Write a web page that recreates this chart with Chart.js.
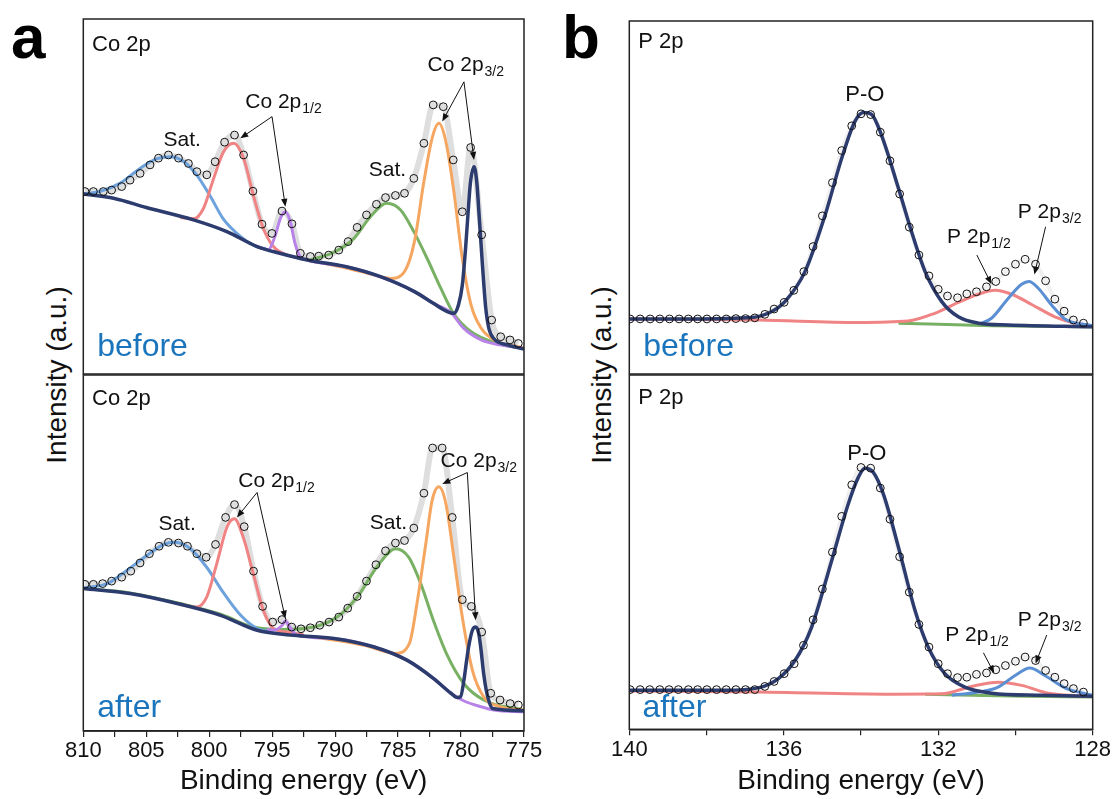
<!DOCTYPE html>
<html>
<head>
<meta charset="utf-8">
<script src="https://cdn.jsdelivr.net/npm/chart.js@4.4.1/dist/chart.umd.min.js"></script>
<style>
  body { margin: 0; background: #fff; }
  #fig { position: relative; width: 1116px; height: 799px; overflow: hidden; font-family: "Liberation Sans", Arial, sans-serif; }
  canvas { position: absolute; }
  .ylab { position: absolute; transform: translate(-50%, -50%) rotate(-90deg); white-space: nowrap; font-size: 28px; color: #111; }
  .letter { position: absolute; font-size: 62px; font-weight: bold; line-height: 1; color: #000; }
</style>
</head>
<body>
<div id="fig">
  <div class="letter" style="left:11px;top:6px">a</div>
  <div class="letter" style="left:562px;top:6px">b</div>
  <div class="ylab" style="left:57px;top:375px">Intensity (a.u.)</div>
  <div class="ylab" style="left:602px;top:375px">Intensity (a.u.)</div>
  <canvas id="aTop" width="490" height="380" style="left:60px;top:0"></canvas>
  <canvas id="aBot" width="490" height="429" style="left:60px;top:370px"></canvas>
  <canvas id="bTop" width="516" height="380" style="left:600px;top:0"></canvas>
  <canvas id="bBot" width="516" height="429" style="left:600px;top:370px"></canvas>
</div>
<script>
// ---- Co 2p, before: [binding energy (eV), intensity (a.u., 0-100 box)] ----
const coBeforeData = [[809.87,51.4],[809.2,51.4],[808.41,51.4],[807.75,51.8],[806.95,52.8],[806.29,54.6],[805.49,56.5],[804.7,58.9],[804.03,60.8],[803.24,61.7],[802.44,60.8],[801.65,59.3],[800.98,57.0],[800.19,56.1],[799.53,59.8],[798.78,65.3],[797.99,67.3],[797.27,61.7],[796.53,51.5],[795.81,42.2],[795.02,39.6],[794.22,45.9],[793.43,42.3],[792.76,34.0],[791.97,33.1],[791.3,33.2],[790.51,33.5],[789.71,34.9],[788.97,37.3],[788.25,41.3],[787.51,44.8],[786.72,47.8],[786.0,49.7],[785.21,50.3],[784.49,50.9],[783.75,55.1],[782.95,65.0],[782.21,75.8],[781.41,75.3],[780.62,60.3],[779.9,45.7],[779.24,63.8],[778.36,39.2],[777.57,15.2],[776.85,10.5],[776.11,9.6],[775.45,8.6]];
const coBeforeNavy = [[810,50.7],[807.6,49.5],[805,46.9],[801.25,43.4],[798.6,40.1],[796.2,35.9],[794.4,34.0],[792.2,32.1],[789.1,30.2],[786.4,27.4],[783.7,23.2],[782.2,19.9],[781.1,17.6],[780.57,17.1],[780.2,19.5],[779.9,25.0],[779.64,35.4],[779.45,45.0],[779.25,54.0],[778.97,58.4],[778.75,54.0],[778.55,44.0],[778.3,30.7],[778.05,19.0],[777.8,13.0],[777.4,10.0],[776.3,8.2],[775,7.0]];
const coBeforePurple = [[796.2,35.9],[795.3,35.0],[794.8,38.5],[794.35,43.8],[793.96,45.7],[793.56,42.9],[793.2,37.0],[792.8,33.2],[792.2,32.1],[789.1,30.2],[786.4,27.4],[783.7,23.2],[782.2,19.9],[780.8,17.3],[779.8,12.9],[778.4,9.6],[776.9,8.2],[775,7.2]];
const coBeforeRed = [[802.3,44.1],[801.25,43.7],[800.45,46.7],[799.65,55.1],[798.86,62.6],[798.07,65.0],[797.27,60.8],[796.5,50.4],[795.7,41.0],[794.9,35.9],[793.8,33.5],[792.5,32.5]];
const coBeforeBlue = [[810,50.7],[808.7,51.4],[807.1,53.7],[805.5,57.9],[804.2,60.6],[803.1,61.2],[802,59.8],[801,56.1],[799.9,50.0],[798.9,43.8],[797.5,38.7],[796.5,36.3],[795.5,35.2]];
const coBeforeOrange = [[791.7,31.8],[789.05,29.8],[786.9,27.9],[785.6,26.9],[784.5,28.8],[783.7,37.3],[782.95,54.2],[782.3,66.4],[781.76,70.6],[781.2,65.4],[780.57,51.4],[779.9,32.6],[779.2,19.4],[778.4,12.9],[777.1,9.1],[775,7.4]];
const coBeforeGreen = [[792,32.1],[790.1,34.3],[788.5,38.2],[787.2,44.3],[785.9,48.1],[784.8,46.2],[783.75,40.1],[782.7,32.6],[781.6,24.1],[780.6,17.1],[779.2,11.9],[777.1,8.6],[775,7.2]];

// ---- Co 2p, after ----
const coAfterData = [[809.87,41.2],[809.2,41.2],[808.46,41.4],[807.75,42.1],[806.95,43.2],[806.23,44.9],[805.49,47.2],[804.75,49.8],[803.98,51.9],[803.24,53.0],[802.44,52.8],[801.73,51.9],[800.98,49.8],[800.24,48.8],[799.5,52.4],[798.7,60.0],[797.99,63.6],[797.22,57.4],[796.48,44.9],[795.76,35.0],[794.96,30.6],[794.22,31.3],[793.45,29.2],[792.71,28.7],[791.97,29.0],[791.22,29.7],[790.48,30.6],[789.71,32.0],[789.0,34.5],[788.25,37.8],[787.51,42.1],[786.76,46.7],[786.0,50.6],[785.21,52.8],[784.49,53.5],[783.75,57.0],[782.95,66.8],[782.26,79.5],[781.5,79.5],[780.7,60.0],[779.9,36.9],[779.18,35.0],[778.36,27.8],[777.64,10.6],[776.9,8.7],[776.1,7.7],[775.45,7.3]];
const coAfterNavy = [[810,40.0],[806.3,38.6],[802.3,35.6],[799.1,32.5],[796.2,28.3],[793.3,26.9],[790.1,26.0],[786.9,23.6],[784.3,19.9],[782.2,14.8],[780.8,10.6],[780.3,9.4],[780.04,9.6],[779.77,14.3],[779.55,20.0],[779.4,23.6],[779.1,28.3],[778.84,29.2],[778.6,27.5],[778.44,23.6],[778.2,16.0],[778.0,11.5],[777.75,8.0],[777.5,6.3],[775,5.7]];
const coAfterPurple = [[795.4,28.5],[794.9,28.3],[794.2,29.7],[793.96,30.9],[793.6,29.2],[793.0,26.9],[790.1,26.0],[786.9,23.6],[784.3,19.9],[782.2,14.8],[780.8,10.6],[779.8,8.5],[778.4,6.8],[777.4,5.9],[775,5.4]];
const coAfterRed = [[802.3,35.6],[801,34.8],[800.2,37.6],[799.4,47.0],[798.6,57.2],[798.0,59.6],[797.3,54.4],[796.5,44.2],[795.7,33.9],[794.9,28.8],[793.8,27.8],[792.5,27.0]];
const coAfterBlue = [[810,40.2],[808.1,41.4],[806.55,45.1],[804.96,49.3],[803.6,52.4],[802.7,53.0],[801.5,51.2],[800.2,46.0],[798.9,39.0],[797.5,32.5],[796.2,28.8],[795.2,28.0]];
const coAfterOrange = [[791.7,26.4],[787.7,24.1],[785.2,21.8],[784.1,24.6],[783.5,35.8],[782.8,52.6],[782.3,64.7],[781.76,68.6],[781.2,63.8],[780.57,48.8],[779.9,32.0],[779.1,17.1],[778.2,9.6],[776.85,6.8],[775,5.9]];
const coAfterGreen = [[810,40.0],[806.3,38.8],[802.3,35.8],[799.1,32.8],[796.5,29.2],[794.35,28.5],[791.7,29.2],[789.85,32.0],[788.25,37.6],[786.7,46.0],[785.2,51.2],[784.15,48.8],[783.2,41.4],[782.2,31.1],[781.1,21.3],[779.8,13.4],[778.2,8.7],[775,5.9]];

// ---- P 2p, before ----
const pBeforeData = [[139.98,15.6],[139.72,15.6],[139.46,15.6],[139.21,15.6],[138.96,15.6],[138.71,15.6],[138.47,15.6],[138.23,15.6],[137.99,15.6],[137.74,15.6],[137.49,15.6],[137.24,15.7],[136.99,15.7],[136.75,15.9],[136.49,16.9],[136.25,18.4],[135.99,20.3],[135.74,23.7],[135.48,29.0],[135.24,36.1],[135.0,44.8],[134.74,54.2],[134.5,63.3],[134.24,70.3],[134.0,73.7],[133.75,73.5],[133.5,68.5],[133.25,60.4],[133.0,51.0],[132.75,41.6],[132.5,33.7],[132.24,27.8],[132.0,24.0],[131.76,22.1],[131.5,21.6],[131.26,22.7],[131.01,23.3],[130.75,24.7],[130.51,26.2],[130.26,29.0],[130.0,31.1],[129.75,32.5],[129.48,31.1],[129.22,26.4],[128.98,21.2],[128.74,17.8],[128.5,15.3],[128.24,14.4]];
const pBeforeNavy = [[140,15.6],[138.39,15.6],[136.83,16.0],[136.31,17.7],[135.97,20.5],[135.45,29.0],[134.93,45.0],[134.5,61.1],[134.16,71.5],[133.94,74.1],[133.73,73.6],[133.47,67.7],[133.03,52.6],[132.69,40.3],[132.34,29.0],[131.91,20.5],[131.48,16.2],[130.96,14.4],[130.19,13.9],[128,13.4]];
const pBeforeRed = [[140,15.6],[136.66,15.3],[134.07,14.6],[132.78,15.0],[132.09,17.2],[131.48,20.3],[130.96,22.6],[130.53,23.7],[130.1,22.6],[129.58,19.7],[128.98,16.2],[128.46,14.4],[128,13.7]];
const pBeforeBlue = [[130.96,14.1],[130.62,15.8],[130.19,21.4],[129.84,25.4],[129.65,26.2],[129.41,24.3],[129.06,19.5],[128.72,15.6],[128,13.7]];
const pBeforeGreen = [[133.03,14.4],[130.62,13.7],[128,13.4]];

// ---- P 2p, after ----
const pAfterData = [[139.98,11.2],[139.72,11.2],[139.47,11.2],[139.21,11.2],[138.97,11.2],[138.73,11.2],[138.47,11.2],[138.23,11.2],[137.99,11.2],[137.74,11.2],[137.49,11.2],[137.24,11.2],[136.99,11.2],[136.75,11.2],[136.49,12.1],[136.25,13.5],[135.99,15.7],[135.73,18.5],[135.49,23.7],[135.24,30.9],[135.0,39.6],[134.74,50.0],[134.5,60.1],[134.24,69.0],[134.0,73.9],[133.75,73.7],[133.5,68.1],[133.25,59.3],[133.0,48.7],[132.75,38.7],[132.5,29.6],[132.24,23.2],[132.0,18.5],[131.76,15.7],[131.5,14.6],[131.26,14.7],[131.01,15.5],[130.75,15.9],[130.51,16.8],[130.26,18.0],[130.0,19.2],[129.75,20.4],[129.48,19.4],[129.22,16.6],[128.98,14.7],[128.74,12.9],[128.5,11.5],[128.24,10.5]];
const pAfterNavy = [[140,11.0],[137.52,11.0],[136.66,11.7],[136.14,14.3],[135.71,19.4],[135.28,28.8],[134.76,47.6],[134.33,63.6],[134.07,71.1],[133.9,73.7],[133.68,72.5],[133.42,66.4],[133.03,51.4],[132.6,33.5],[132.26,23.2],[131.83,15.7],[131.31,11.9],[130.62,10.2],[129.32,9.6],[128,9.3]];
const pAfterRed = [[140,10.8],[136.66,10.5],[133.2,9.9],[131.91,10.0],[131.14,12.1],[130.45,13.3],[129.84,12.4],[129.15,10.2],[128,9.3]];
const pAfterBlue = [[131.65,9.6],[130.96,10.5],[130.45,11.9],[130.01,15.2],[129.63,17.3],[129.24,15.2],[128.72,11.7],[128,9.6]];
const pAfterGreen = [[132.34,9.9],[129.75,9.3],[128,9.1]];

// ---- axes ----
const coRange = [775, 810];
const pRange = [128, 140];
const coTickStep = 2.5, coLabelStep = 5;
const pTickStep = 2, pLabelStep = 4;

const FONT = '"Liberation Sans", Arial, sans-serif';
Chart.defaults.font.family = FONT;
Chart.defaults.color = '#111';

const C = {
  navy: '#2d3c6e', blue: '#6ea2dc', red: '#f08484', purple: '#b883e8',
  green: '#78b064', orange: '#f5a661', raw: '#dedede', note: '#1b75bc'
};

function xy(pairs) { return pairs.map(([x, y]) => ({ x, y })); }

function line(pairs, color, width) {
  return { data: xy(pairs), borderColor: color, borderWidth: width || 3, pointRadius: 0,
           cubicInterpolationMode: 'monotone', fill: false };
}
function dots(pairs) {
  return { data: xy(pairs), showLine: false, pointRadius: 3.9, pointBorderWidth: 1,
           pointBorderColor: '#111', pointBackgroundColor: 'rgba(0,0,0,0)' };
}

// frame, labels and arrows, placed in data units
function decor(notes) {
  return {
    id: 'decor',
    afterDatasetsDraw(chart) {
      const { ctx, chartArea: a, scales: { x, y } } = chart;
      ctx.save();
      ctx.strokeStyle = '#222';
      ctx.lineWidth = 1.5;
      ctx.strokeRect(a.left, a.top, a.right - a.left, a.bottom - a.top);

      (notes.arrows || []).forEach(([e0, v0, e1, v1]) => {
        const x0 = x.getPixelForValue(e0), y0 = y.getPixelForValue(v0);
        const x1 = x.getPixelForValue(e1), y1 = y.getPixelForValue(v1);
        const ang = Math.atan2(y1 - y0, x1 - x0);
        ctx.strokeStyle = '#111'; ctx.fillStyle = '#111'; ctx.lineWidth = 1;
        ctx.beginPath(); ctx.moveTo(x0, y0);
        ctx.lineTo(x1 - 6 * Math.cos(ang), y1 - 6 * Math.sin(ang)); ctx.stroke();
        ctx.beginPath();
        ctx.moveTo(x1, y1);
        ctx.lineTo(x1 - 8 * Math.cos(ang) + 3.2 * Math.sin(ang), y1 - 8 * Math.sin(ang) - 3.2 * Math.cos(ang));
        ctx.lineTo(x1 - 8 * Math.cos(ang) - 3.2 * Math.sin(ang), y1 - 8 * Math.sin(ang) + 3.2 * Math.cos(ang));
        ctx.closePath(); ctx.fill();
      });

      ctx.textBaseline = 'middle';
      (notes.labels || []).forEach(n => {
        const size = n.size || 21;
        ctx.font = size + 'px ' + FONT;
        ctx.fillStyle = n.color || '#111';
        let px = x.getPixelForValue(n.e);
        const py = y.getPixelForValue(n.v);
        const w = ctx.measureText(n.text).width;
        if (n.align === 'center') px -= w / 2;
        ctx.textAlign = 'left';
        ctx.fillText(n.text, px, py);
        if (n.sub) {
          ctx.font = '14px ' + FONT;
          ctx.fillText(n.sub, px + w + 1, py + 7);
        }
      });
      ctx.restore();
    }
  };
}

function makePanel(id, range, sets, notes, bottom) {
  const isCo = range === coRange;
  const step = isCo ? coTickStep : pTickStep;
  const labStep = isCo ? coLabelStep : pLabelStep;
  const padL = isCo ? 23.3 : 29.3;
  const padR = isCo ? 26 : 23.3;
  const xScale = {
    type: 'linear', reverse: true, min: range[0], max: range[1],
    display: !!bottom
  };
  if (bottom) {
    Object.assign(xScale, {
      afterFit: s => { s.height = isCo ? 68 : 69.7; },
      border: { color: '#222', width: 1.5 },
      grid: { drawOnChartArea: false, drawTicks: true, tickLength: 6, color: '#222', lineWidth: 1.2 },
      ticks: { stepSize: step, autoSkip: false, maxRotation: 0, padding: 1, color: '#111',
               font: { size: 22 }, callback: v => (v % labStep === 0 ? v : '') },
      title: { display: true, text: 'Binding energy (eV)', color: '#111', font: { size: 28 },
               padding: { top: 0, bottom: 1 } }
    });
  }
  new Chart(document.getElementById(id), {
    type: 'line',
    data: { datasets: sets },
    options: {
      responsive: false, animation: false, devicePixelRatio: 1,
      layout: { padding: bottom ? { left: padL, right: padR, top: 4, bottom: 0 }
                                : { left: padL, right: padR, top: isCo ? 19 : 21, bottom: 6 } },
      plugins: { legend: { display: false }, tooltip: { enabled: false } },
      scales: { x: xScale, y: { display: false, min: 0, max: 100 } }
    },
    plugins: [decor(notes)]
  });
}

makePanel('aTop', coRange, [
  dots(coBeforeData),
  line(coBeforeNavy, C.navy, 3.5),
  line(coBeforePurple, C.purple),
  line(coBeforeRed, C.red),
  line(coBeforeBlue, C.blue),
  line(coBeforeOrange, C.orange),
  line(coBeforeGreen, C.green),
  line(coBeforeData, C.raw, 6)
], {
  labels: [
    { text: 'Co 2p', e: 809.31, v: 92.7, size: 22 },
    { text: 'Sat.', e: 802.15, v: 65.9, align: 'center' },
    { text: 'Co 2p', sub: '1/2', e: 797.14, v: 76.6 },
    { text: 'Co 2p', sub: '3/2', e: 782.66, v: 87.0 },
    { text: 'Sat.', e: 785.84, v: 57.5, align: 'center' },
    { text: 'before', e: 808.9, v: 7.6, size: 32, color: C.note }
  ],
  arrows: [
    [795.01, 72.5, 797.53, 66.4], [795.01, 72.5, 793.95, 47.1],
    [779.77, 82.3, 781.49, 71.1], [779.77, 82.3, 778.97, 60.3]
  ]
}, false);

makePanel('aBot', coRange, [
  dots(coAfterData),
  line(coAfterNavy, C.navy, 3.5),
  line(coAfterPurple, C.purple),
  line(coAfterRed, C.red),
  line(coAfterBlue, C.blue),
  line(coAfterOrange, C.orange),
  line(coAfterGreen, C.green),
  line(coAfterData, C.raw, 6)
], {
  labels: [
    { text: 'Co 2p', e: 809.31, v: 93.3, size: 22 },
    { text: 'Sat.', e: 802.55, v: 58.0, align: 'center' },
    { text: 'Co 2p', sub: '1/2', e: 797.69, v: 70.3 },
    { text: 'Sat.', e: 785.76, v: 58.5, align: 'center' },
    { text: 'Co 2p', sub: '3/2', e: 781.63, v: 75.9 },
    { text: 'after', e: 808.9, v: 6.4, size: 32, color: C.note }
  ],
  arrows: [
    [796.2, 67.0, 797.8, 60.0], [796.2, 67.0, 793.95, 31.6],
    [779.5, 72.6, 781.49, 69.4], [779.5, 72.6, 778.84, 31.1]
  ]
}, true);

makePanel('bTop', pRange, [
  dots(pBeforeData),
  line(pBeforeNavy, C.navy, 3.5),
  line(pBeforeBlue, '#5b8fd3'),
  line(pBeforeRed, C.red),
  line(pBeforeGreen, C.green),
  line(pBeforeData, '#f0f0f0', 4)
], {
  labels: [
    { text: 'P 2p', e: 139.77, v: 94.1, size: 22 },
    { text: 'P-O', e: 133.9, v: 79.0, align: 'center', size: 22 },
    { text: 'P 2p', sub: '1/2', e: 131.77, v: 38.8 },
    { text: 'P 2p', sub: '3/2', e: 129.94, v: 45.9 },
    { text: 'before', e: 139.64, v: 7.6, size: 32, color: C.note }
  ],
  arrows: [
    [131.0, 33.7, 130.62, 25.4], [129.22, 41.7, 129.51, 28.2]
  ]
}, false);

makePanel('bBot', pRange, [
  dots(pAfterData),
  line(pAfterNavy, C.navy, 3.5),
  line(pAfterBlue, '#5b8fd3'),
  line(pAfterRed, C.red),
  line(pAfterGreen, C.green),
  line(pAfterData, '#f0f0f0', 4)
], {
  labels: [
    { text: 'P 2p', e: 139.77, v: 93.6, size: 22 },
    { text: 'P-O', e: 133.85, v: 77.8, align: 'center', size: 22 },
    { text: 'P 2p', sub: '1/2', e: 131.82, v: 26.6 },
    { text: 'P 2p', sub: '3/2', e: 129.94, v: 30.8 },
    { text: 'after', e: 139.66, v: 6.0, size: 32, color: C.note }
  ],
  arrows: [
    [130.83, 21.6, 130.55, 15.8], [129.19, 26.6, 129.48, 18.6]
  ]
}, true);
</script>
</body>
</html>
